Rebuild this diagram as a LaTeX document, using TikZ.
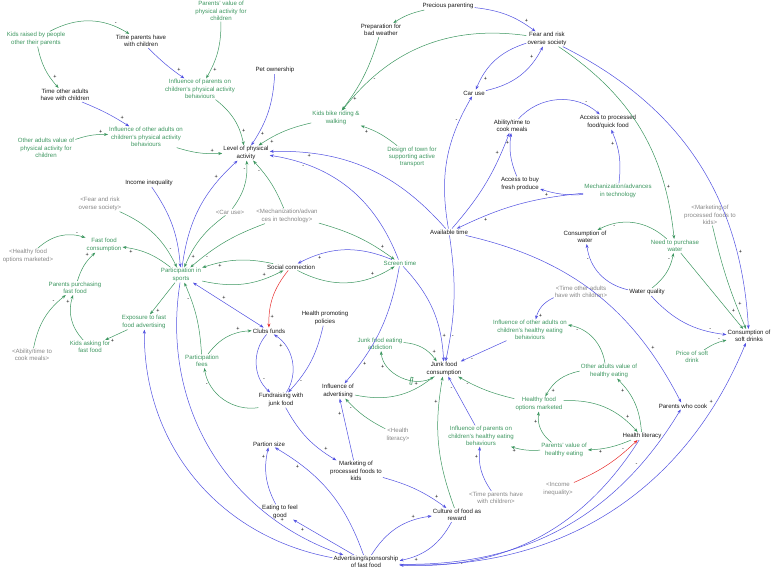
\documentclass[tikz,border=0pt]{standalone}
\usepackage{fontspec}
\setmainfont{Liberation Sans}
\usetikzlibrary{arrows.meta}

\definecolor{pblue}{RGB}{80,80,225}
\definecolor{pgreen}{RGB}{60,150,95}
\definecolor{pgray}{RGB}{135,135,135}
\definecolor{pred}{RGB}{230,45,45}

\tikzset{
  var/.style={font=\fontsize{6.1}{7.2}\selectfont, align=center, inner sep=1pt, text=black!90},
  gvar/.style={var, text=pgreen},
  shvar/.style={var, text=pgray},
  link/.style={line width=0.5pt, -{Stealth[length=4pt,width=3pt]}},
  blink/.style={link, draw=pblue},
  glink/.style={link, draw=pgreen},
  rlink/.style={link, draw=pred},
  sg/.style={font=\fontsize{5.5}{5.5}\selectfont, inner sep=1pt, text=black, auto, pos=.8},
  delaymark/.style={sloped, draw=pgreen, line width=0.6pt, minimum width=2pt, minimum height=7pt, inner sep=0pt},
  arcL/.style={bend left=#1}, arcL/.default=20,
  arcR/.style={bend right=#1}, arcR/.default=20,
}

\begin{document}
\begin{tikzpicture}[x=1pt, y=-1pt]
  \useasboundingbox (0,0) rectangle (771,575);

  %% physical activity side
  \node[gvar]  (kraised) at (36,39)   {Kids raised by people\\other their parents};
  \node[var]   (tpar)    at (141,41)  {Time parents have\\with children};
  \node[var]   (toth)    at (65,95)   {Time other adults\\have with children};
  \node[gvar]  (pvpa)    at (221,11)  {Parents' value of\\physical activity for\\children};
  \node[gvar]  (ipapa)   at (200,89)  {Influence of parents on\\children's physical activity\\behaviours};
  \node[gvar]  (ioapa)   at (146,137) {Influence of other adults on\\children's physical activity\\behaviours};
  \node[gvar]  (oavpa)   at (46,148)  {Other adults value of\\physical activity for\\children};
  \node[var]   (pet)     at (275,70)  {Pet ownership};
  \node[var]   (lpa)     at (246,153) {Level of physical\\activity};
  \node[var]   (prep)    at (381,30)  {Preparation for\\bad weather};
  \node[var]   (prec)    at (448,6)   {Precious parenting};
  \node[var]   (fear)    at (547,39)  {Fear and risk\\overse society};
  \node[var]   (car)     at (474,93)  {Car use};
  \node[gvar]  (bike)    at (336,118) {Kids bike riding \&\\walking};
  \node[gvar]  (design)  at (412,157) {Design of town for\\supporting active\\transport};

  %% food and time
  \node[var]   (ability) at (512,126) {Ability/time to\\cook meals};
  \node[var]   (access)  at (608,122) {Access to processed\\food/quick food};
  \node[var]   (fresh)   at (520,184) {Access to buy\\fresh produce};
  \node[gvar]  (mech)    at (618,191) {Mechanization/advances\\in technology};
  \node[var]   (avail)   at (449,232) {Available time};
  \node[var]   (cwater)  at (585,237) {Consumption of\\water};
  \node[gvar]  (need)    at (675,246) {Need to purchase\\water};
  \node[var]   (wq)      at (647,292) {Water quality};
  \node[var]   (soft)    at (749,336) {Consumption of\\soft drinks};
  \node[shvar] (mktsh)   at (710,215) {<Marketing of\\processed foods to\\kids>};
  \node[gvar]  (price)   at (692,357) {Price of soft\\drink};

  %% sports and clubs
  \node[var]   (income)  at (149,183) {Income inequality};
  \node[shvar] (fearsh)  at (100,204) {<Fear and risk\\overse society>};
  \node[shvar] (hfsh)    at (28,256)  {<Healthy food\\options marketed>};
  \node[gvar]  (ffc)     at (104,245) {Fast food\\consumption};
  \node[gvar]  (part)    at (181,275) {Participation in\\sports};
  \node[gvar]  (ppf)     at (75,288)  {Parents purchasing\\fast food};
  \node[gvar]  (expo)    at (144,322) {Exposure to fast\\food advertising};
  \node[gvar]  (kask)    at (90,347)  {Kids asking for\\fast food};
  \node[shvar] (abilsh)  at (32,355)  {<Ability/time to\\cook meals>};
  \node[shvar] (carsh)   at (230,212) {<Car use>};
  \node[shvar] (mechsh)  at (287,216) {<Mechanization/advan\\ces in technology>};
  \node[var]   (social)  at (291,267) {Social connection};
  \node[gvar]  (screen)  at (400,263) {Screen time};
  \node[var]   (hpp)     at (325,318) {Health promoting\\policies};
  \node[var]   (clubs)   at (269,331) {Clubs funds};
  \node[gvar]  (fees)    at (202,361) {Participation\\fees};
  \node[var]   (fund)    at (281,400) {Fundraising with\\junk food};

  %% junk food
  \node[var]   (infadv)  at (338,391) {Influence of\\advertising};
  \node[gvar]  (addict)  at (380,344) {Junk food eating\\addiction};
  \node[var]   (junk)    at (444,369) {Junk food\\consumption};
  \node[shvar] (hlsh)    at (398,435) {<Health\\literacy>};
  \node[var]   (portion) at (269,444) {Partion size};
  \node[var]   (eat)     at (280,512) {Eating to feel\\good};
  \node[var]   (mkt)     at (356,471) {Marketing of\\processed foods to\\kids};
  \node[var]   (adv)     at (366,562) {Advertising/sponsorship\\of fast food};
  \node[var]   (culture) at (457,515) {Culture of food as\\reward};
  \node[shvar] (toash)   at (581,292) {<Time other adults\\have with children>};
  \node[gvar]  (ioahe)   at (530,330) {Influence of other adults on\\children's healthy eating\\behaviours};
  \node[gvar]  (oavhe)   at (609,371) {Other adults value of\\healthy eating};
  \node[gvar]  (hfo)     at (539,404) {Healthy food\\options marketed};
  \node[gvar]  (iphe)    at (481,436) {Influence of parents on\\children's healthy eating\\behaviours};
  \node[gvar]  (pvhe)    at (564,450) {Parents' value of\\healthy eating};
  \node[var]   (hl)      at (642,436) {Health literacy};
  \node[shvar] (tpsh)    at (496,498) {<Time parents have\\with children>};
  \node[shvar] (incsh)   at (558,489) {<Income\\inequality>};
  \node[var]   (pcook)   at (683,406) {Parents who cook};

  %% links: physical activity
  \draw[glink] (kraised) to[arcL=30] node[sg]{-} (tpar);
  \draw[glink] (kraised) to[arcR=15] node[sg]{+} (toth);
  \draw[blink] (tpar) to[arcR=5] node[sg]{+} (ipapa);
  \draw[blink] (toth) to[arcL=5] node[sg]{+} (ioapa);
  \draw[glink] (oavpa) to[arcL=10] node[sg]{+} (ioapa);
  \draw[glink] (pvpa) to[arcL=15] node[sg]{+} (ipapa);
  \draw[glink] (ipapa) to[arcL=20] node[sg]{+} (lpa);
  \draw[glink] (ioapa) to[arcR=10] node[sg]{+} (lpa);
  \draw[blink] (pet) to[arcL=15] node[sg]{+} (lpa);
  \draw[glink] (bike) to[arcR=10] node[sg]{+} (lpa);
  \draw[glink] (prep) to[arcL=10] node[sg]{+} (bike);
  \draw[glink] (fear) to[arcR=30] node[sg]{-} (bike);
  \draw[glink] (design) to[arcR=10] node[sg]{+} (bike);
  \draw[glink] (prec) to[arcR=10] (prep);
  \draw[blink] (prec) to[arcL=15] node[sg]{+} (fear);
  \draw[blink] (fear) to[arcR=25] node[sg]{+} (car);
  \draw[blink] (car) to[arcR=25] node[sg]{+} (fear);
  \draw[blink] (avail) to[arcL=20] node[sg]{-} (car);
  \draw[blink] (avail) to[arcR=25] node[sg]{+} (lpa);
  \draw[blink] (screen) to[arcR=30] node[sg]{-} (lpa);

  %% links: food, time, water
  \draw[blink] (ability) to[arcL=45] node[sg]{-} (access);
  \draw[blink] (fresh) to[arcL=15] node[sg]{+} (ability);
  \draw[blink] (avail) to[arcR=10] node[sg]{+} (ability);
  \draw[blink] (mech) to[arcR=15] node[sg]{+} (access);
  \draw[blink] (mech) to[arcL=10] node[sg]{+} (fresh);
  \draw[blink] (mech) to[arcR=10] node[sg]{+} (avail);
  \draw[blink] (avail) to[arcL=25] node[sg]{+} (pcook);
  \draw[glink] (fear) to[arcL=25] node[sg]{+} (need);
  \draw[blink] (fear) to[arcL=30] node[sg]{+} (soft);
  \draw[glink] (need) to[arcR=35] node[sg]{-} (cwater);
  \draw[glink] (wq) to[arcR=20] node[sg]{-} (need);
  \draw[blink] (wq) to[arcL=35] node[sg]{-} (cwater);
  \draw[blink] (wq) to[arcR=20] node[sg]{-} (soft);
  \draw[glink] (need) -- node[sg]{+} (soft);
  \draw[glink] (mktsh) to[arcR=5] node[sg]{+} (soft);
  \draw[glink] (price) to[arcL=10] node[sg]{-} (soft);
  \draw[blink] (adv) to[arcR=35] node[sg,pos=.85]{+} (soft);
  \draw[blink] (adv) to[arcR=30] node[sg]{-} (pcook);
  \draw[blink] (hl) to[arcL=30] node[sg]{-} (adv);

  %% links: healthy eating
  \draw[rlink] (incsh) to[arcR=10] node[sg]{-} (hl);
  \draw[glink] (hfo) to[arcL=25] node[sg]{+} (hl);
  \draw[glink] (hl) to[arcR=20] node[sg]{+} (oavhe);
  \draw[glink] (hl) to[arcL=10] node[sg]{+} (pvhe);
  \draw[glink] (oavhe) to[arcR=35] node[sg]{-} (ioahe);
  \draw[blink] (toash) to[arcR=25] node[sg]{+} (ioahe);
  \draw[glink] (oavhe) to[arcR=25] node[sg]{+} (hfo);
  \draw[glink] (pvhe) to[arcL=30] node[sg]{+} (hfo);
  \draw[glink] (pvhe) to[arcL=10] node[sg]{+} (iphe);
  \draw[blink] (tpsh) to[arcL=20] node[sg]{+} (iphe);
  \draw[blink] (iphe) -- node[sg]{-} (junk);
  \draw[glink] (hfo) to[arcL=8] node[sg]{-} (junk);
  \draw[blink] (ioahe) -- node[sg]{-} (junk);
  \draw[glink] (culture) to[arcL=15] node[sg]{+} (junk);
  \draw[glink] (junk) to[arcL=60] node[delaymark,pos=.35]{} node[sg]{+} (addict);
  \draw[glink] (addict) to[arcL=25] node[sg]{+} (junk);
  \draw[blink] (avail) to[arcL=10] node[sg]{-} (junk);
  \draw[blink] (screen) to[arcL=20] node[sg]{+} (junk);
  \draw[glink] (infadv) to[arcR=25] node[sg]{+} (junk);
  \draw[blink] (screen) to[arcL=15] node[sg]{+} (infadv);
  \draw[glink] (hlsh) to[arcL=10] node[sg]{-} (infadv);
  \draw[blink] (mkt) -- node[sg]{+} (infadv);
  \draw[blink] (mkt) to[arcL=10] node[sg]{+} (culture);
  \draw[blink] (adv) to[arcL=25] node[sg]{+} (culture);
  \draw[blink] (culture) to[arcL=25] node[sg]{+} (adv);
  \draw[blink] (adv) -- node[sg]{+} (eat);
  \draw[blink] (adv) to[arcR=20] node[sg]{+} (portion);
  \draw[blink] (eat) to[arcL=20] node[sg]{+} (portion);
  \draw[blink] (fund) to[arcR=15] node[sg]{+} (mkt);

  %% links: clubs and sport
  \draw[blink] (clubs) to[arcR=45] node[sg]{-} (fund);
  \draw[blink] (fund) to[arcR=45] node[sg]{+} (clubs);
  \draw[blink] (hpp) to[arcL=15] node[sg]{-} (fund);
  \draw[rlink] (social) to[arcR=20] node[sg]{+} (clubs);
  \draw[blink, {Stealth[length=4pt,width=3pt]}-{Stealth[length=4pt,width=3pt]}] (part) -- node[sg,pos=.4]{+} (clubs);
  \draw[glink] (fees) to[arcL=25] node[sg]{+} (clubs);
  \draw[glink] (fees) to[arcR=10] node[sg]{-} (part);
  \draw[glink] (fund) to[arcL=45] node[sg]{-} (fees);
  \draw[blink] (income) to[arcL=15] (part);
  \draw[glink] (fearsh) to[arcL=20] node[sg]{-} (part);
  \draw[glink] (part) to[arcR=15] node[sg]{+} (ffc);
  \draw[glink] (hfsh) to[arcL=30] node[sg]{-} (ffc);
  \draw[glink] (ppf) to[arcL=15] node[sg]{+} (ffc);
  \draw[glink] (kask) to[arcL=30] node[sg]{+} (ppf);
  \draw[glink] (abilsh) to[arcL=20] node[sg]{-} (ppf);
  \draw[glink] (expo) -- node[sg]{+} (kask);
  \draw[glink] (part) -- node[sg]{+} (expo);
  \draw[blink] (part) to[arcL=20] node[sg]{+} (lpa);
  \draw[glink] (carsh) to[arcR=20] node[sg]{-} (lpa);
  \draw[glink] (carsh) to[arcR=15] node[sg]{+} (part);
  \draw[glink] (mechsh) to[arcR=10] node[sg]{-} (part);
  \draw[glink] (mechsh) to[arcR=10] node[sg]{-} (lpa);
  \draw[glink] (mechsh) to[arcL=10] node[sg]{+} (screen);
  \draw[glink] (social) to[arcR=15] node[sg]{+} (part);
  \draw[glink] (part) to[arcR=20] node[sg]{+} (social);
  \draw[blink] (screen) to[arcR=25] node[sg]{+} (social);
  \draw[glink] (social) to[arcR=30] node[sg]{+} (screen);
  \draw[blink] (adv) to[arcL=40] (expo);
  \draw[blink] (part) to[arcR=40] node[sg]{+} (adv);
\end{tikzpicture}
\end{document}
